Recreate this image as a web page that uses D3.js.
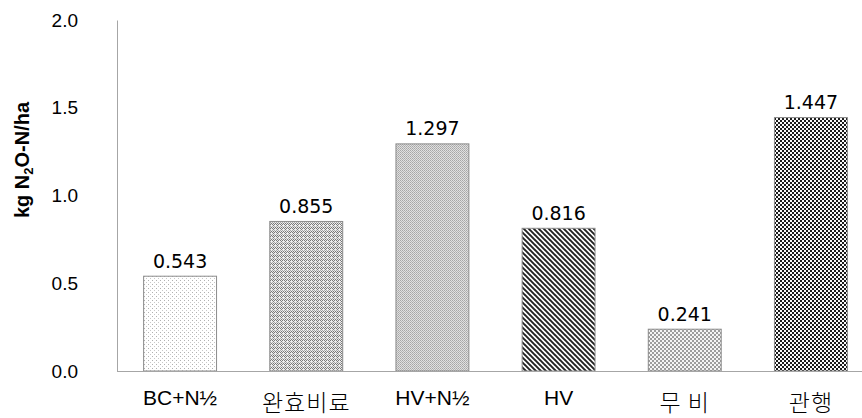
<!DOCTYPE html>
<html>
<head>
<meta charset="utf-8">
<script src="https://cdn.jsdelivr.net/npm/d3@7"></script>
<style>
  html, body { margin: 0; padding: 0; background: #fff; }
  svg { display: block; }
</style>
</head>
<body>
<svg id="chart" width="862" height="418"></svg>
<script>
const categories = ["BC+N½", "완효비료", "HV+N½", "HV", "무 비", "관행"];
const values = [0.543, 0.855, 1.297, 0.816, 0.241, 1.447];
const patterns = ["pDots", "pWeave", "pFine", "pDiag", "pCheckLight", "pCheckDark"];
const yTicks = [0, 0.5, 1.0, 1.5, 2.0];
const yTitle = "kg N2O-N/ha";

const svg = d3.select("#chart");
const defs = svg.append("defs");

function pat(id, w, h) {
  return defs.append("pattern").attr("id", id).attr("patternUnits", "userSpaceOnUse")
    .attr("width", w).attr("height", h || w);
}
function px(p, pts, color) {
  pts.forEach(([a, b]) => p.append("rect").attr("x", a).attr("y", b).attr("width", 1).attr("height", 1).attr("fill", color));
}
// dotted light
{
  const p = pat("pDots", 4);
  p.append("rect").attr("width", 4).attr("height", 4).attr("fill", "#fff");
  px(p, [[0, 0]], "#b0b0b0");
  px(p, [[2, 2]], "#c8c8c8");
}
// weave
{
  const p = pat("pWeave", 4);
  p.append("rect").attr("width", 4).attr("height", 4).attr("fill", "#ececec");
  px(p, [[0, 0], [1, 1], [2, 0], [3, 3], [1, 3]], "#7a7a7a");
  px(p, [[2, 2], [0, 2]], "#a8a8a8");
}
// fine checks
{
  const p = pat("pFine", 2);
  p.append("rect").attr("width", 2).attr("height", 2).attr("fill", "#e0e0e0");
  px(p, [[0, 0]], "#a6a6a6");
  px(p, [[1, 1]], "#b4b4b4");
}
// diagonal stripes
{
  const p = pat("pDiag", 5);
  p.append("rect").attr("width", 5).attr("height", 5).attr("fill", "#fff");
  p.append("path").attr("d", "M0,0 L5,5 M-5,0 L0,5 M0,-5 L5,0 M5,0 L10,5 M0,5 L5,10")
    .attr("stroke", "#222").attr("stroke-width", 1.9);
}
// light checker
{
  const p = pat("pCheckLight", 4);
  p.append("rect").attr("width", 4).attr("height", 4).attr("fill", "#f4f4f4");
  p.append("rect").attr("width", 2).attr("height", 2).attr("fill", "#9c9c9c");
  p.append("rect").attr("x", 2).attr("y", 2).attr("width", 2).attr("height", 2).attr("fill", "#9c9c9c");
}
// dark checker
{
  const p = pat("pCheckDark", 4);
  p.append("rect").attr("width", 4).attr("height", 4).attr("fill", "#fafafa");
  p.append("rect").attr("width", 2).attr("height", 2).attr("fill", "#1a1a1a");
  p.append("rect").attr("x", 2).attr("y", 2).attr("width", 2).attr("height", 2).attr("fill", "#1a1a1a");
}

const x = d3.scaleBand().domain(categories).range([117, 874]).paddingInner(0.414).paddingOuter(0.207);
const y = d3.scaleLinear().domain([0, 2]).range([371, 20]);

// y axis
const yAxis = svg.append("g").attr("transform", "translate(117,0)")
  .call(d3.axisLeft(y).tickValues(yTicks).tickFormat(d3.format(".1f")).tickSize(0).tickPadding(39));
yAxis.select(".domain").attr("stroke", "#a6a6a6").attr("stroke-width", 1);
yAxis.selectAll("text").attr("font-family", "'Liberation Sans', Arial, sans-serif")
  .attr("font-size", 19).attr("fill", "#000");

// bars
svg.append("g").selectAll("rect").data(values).join("rect")
  .attr("x", (d, i) => x(categories[i]) + 0.5)
  .attr("y", d => y(d) + 0.5)
  .attr("width", x.bandwidth() - 1)
  .attr("height", d => y(0) - y(d) - 0.5)
  .attr("fill", (d, i) => `url(#${patterns[i]})`)
  .attr("stroke", "#8c8c8c").attr("stroke-width", 1);

// x axis baseline
svg.append("line").attr("x1", 117).attr("x2", 862).attr("y1", y(0) + 0.5).attr("y2", y(0) + 0.5)
  .attr("stroke", "#a6a6a6").attr("stroke-width", 1);

// value labels
svg.append("g").selectAll("text").data(values).join("text")
  .attr("x", (d, i) => x(categories[i]) + x.bandwidth() / 2)
  .attr("y", d => y(d) - 8)
  .attr("text-anchor", "middle")
  .attr("font-family", "'DejaVu Sans', sans-serif")
  .attr("font-size", 19).attr("fill", "#000")
  .text(d => d3.format(".3f")(d));

// category labels
const isKorean = s => /[\uac00-\ud7a3]/.test(s);
svg.append("g").selectAll("text").data(categories).join("text")
  .attr("x", d => x(d) + x.bandwidth() / 2)
  .attr("y", d => isKorean(d) ? 411 : 405)
  .attr("text-anchor", "middle")
  .attr("font-family", d => isKorean(d) ? "'Noto Sans CJK KR', sans-serif" : "'Liberation Sans', Arial, sans-serif")
  .attr("font-weight", d => isKorean(d) ? 300 : 400)
  .attr("font-size", d => isKorean(d) ? 23 : 21)
  .attr("letter-spacing", d => isKorean(d) ? 1 : 0)
  .attr("fill", "#000")
  .text(d => d);

// y title
const t = svg.append("text")
  .attr("transform", "translate(29,160) rotate(-90)")
  .attr("text-anchor", "middle")
  .attr("font-family", "'Liberation Sans', Arial, sans-serif")
  .attr("font-weight", "bold").attr("font-size", 20).attr("fill", "#000");
const m = yTitle.match(/^(kg N)(2)(O-N\/ha)$/);
t.append("tspan").text(m[1]);
t.append("tspan").attr("font-size", 13).attr("dy", 4).text(m[2]);
t.append("tspan").attr("dy", -4).text(m[3]);
</script>
</body>
</html>
